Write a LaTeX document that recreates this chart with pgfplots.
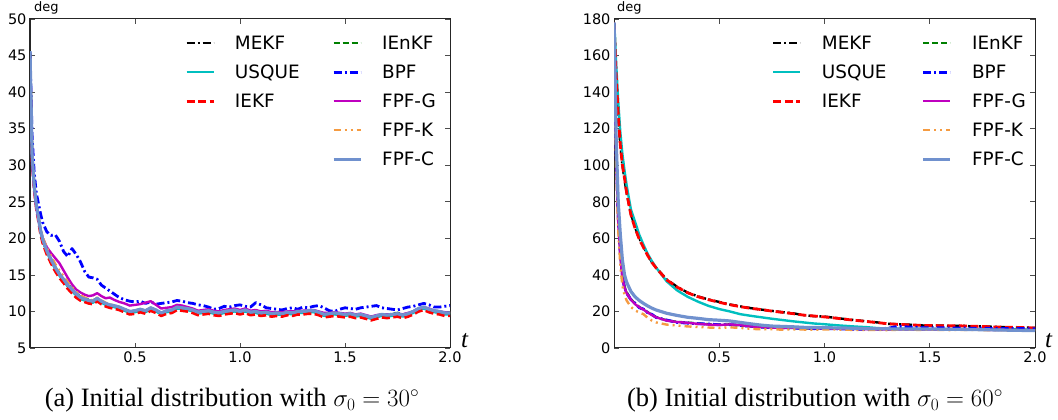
\documentclass[border=0pt]{standalone}
\usepackage{fontspec}
\setmainfont{Liberation Serif}
\setsansfont{DejaVu Sans}
\usepackage{pgfplots}
\usepackage{pgfplotstable}
\pgfplotsset{compat=1.18}

\definecolor{cC}{RGB}{0,191,191}
\definecolor{cG}{RGB}{0,128,0}
\definecolor{cM}{RGB}{191,0,191}
\definecolor{cK}{RGB}{245,155,65}
\definecolor{cL}{RGB}{112,145,206}

\tikzset{
  smekf/.style={black, line width=2.4pt, dash pattern=on 8pt off 3pt on 2pt off 3pt},
  susque/.style={cC, line width=2.4pt},
  siekf/.style={red, line width=2.8pt, dash pattern=on 8pt off 3.5pt},
  sienkf/.style={cG, line width=2.4pt, dash pattern=on 6pt off 3pt},
  sbpf/.style={blue, line width=2.8pt, dash pattern=on 8pt off 3pt on 2pt off 3pt},
  sfpfg/.style={cM, line width=2.4pt},
  sfpfk/.style={cK, line width=2.4pt, dash pattern=on 7pt off 4pt on 2pt off 4pt on 2pt off 4pt},
  sfpfc/.style={cL, line width=3.2pt},
}

\pgfplotstableread{
t M U I E B G K C
0 45.5 45.2 45.3 45.6 45.5 44.8 45.0 45.6
0.01 31.0 31.3 30.6 31.4 34.0 30.2 31.2 31.5
0.02 27.0 27.1 26.6 27.3 29.0 26.8 27.3 27.2
0.03 24.5 24.5 24.1 24.7 26.2 24.2 24.8 24.6
0.04 22.8 22.7 22.4 23.0 24.8 22.6 23.1 22.9
0.05 21.0 20.9 20.6 21.2 23.4 21.1 21.4 21.1
0.06 19.8 19.7 19.4 20.0 22.2 20.1 20.2 19.9
0.08 18.2 18.1 17.8 18.4 20.9 18.8 18.7 18.3
0.10 17.0 16.9 16.6 17.2 20.4 18.0 17.6 17.1
0.12 15.9 15.8 15.5 16.1 20.5 17.3 16.5 16.0
0.14 15.0 14.9 14.6 15.2 19.6 16.6 15.6 15.1
0.16 14.3 14.2 13.9 14.5 18.2 15.6 14.8 14.4
0.18 13.5 13.4 13.1 13.7 17.5 14.6 14.0 13.6
0.20 12.9 12.8 12.5 13.1 18.6 13.7 13.3 13.0
0.22 12.3 12.2 11.9 12.5 17.8 13.0 12.7 12.4
0.24 11.8 11.7 11.5 12.0 16.8 12.6 12.2 11.9
0.26 11.6 11.5 11.3 11.8 15.5 12.3 11.9 11.7
0.28 11.4 11.3 11.1 11.6 14.7 12.1 11.7 11.5
0.30 11.3 11.2 11.0 11.5 14.6 12.2 11.5 11.4
0.32 11.7 11.6 11.4 11.8 14.4 12.5 11.9 11.8
0.34 11.3 11.2 11.0 11.4 13.6 12.1 11.5 11.4
0.36 11.0 10.9 10.7 11.1 13.2 11.8 11.2 11.1
0.38 10.8 10.7 10.5 10.9 12.8 11.9 11.0 10.9
0.40 10.7 10.6 10.4 10.8 12.4 11.6 10.8 10.8
0.425 10.5 10.4 10.2 10.6 11.9 11.3 10.6 10.6
0.45 10.2 10.1 9.9 10.3 11.6 11.1 10.3 10.3
0.475 9.9 9.8 9.6 10.0 11.4 10.8 10.0 10.0
0.5 10.0 9.9 9.7 10.1 11.3 10.9 10.1 10.1
0.525 10.2 10.1 9.9 10.3 11.4 11.0 10.3 10.3
0.55 10.0 9.9 9.7 10.1 11.1 11.2 10.1 10.1
0.575 10.4 10.3 10.1 10.5 11.3 11.4 10.5 10.5
0.6 10.1 10.0 9.8 10.2 11.0 10.9 10.2 10.2
0.625 9.7 9.6 9.4 9.8 11.1 10.4 9.8 9.8
0.65 10.0 9.9 9.7 10.1 11.2 10.5 10.1 10.1
0.675 10.1 10.0 9.8 10.2 11.3 10.6 10.2 10.2
0.7 10.5 10.4 10.2 10.6 11.5 10.9 10.6 10.6
0.725 10.4 10.3 10.1 10.5 11.4 10.8 10.5 10.5
0.75 10.3 10.2 10.0 10.4 11.2 10.6 10.4 10.4
0.775 10.1 10.0 9.8 10.2 11.1 10.4 10.2 10.2
0.8 9.8 9.7 9.5 9.9 10.9 10.1 9.9 9.9
0.825 9.9 9.8 9.6 10.0 10.8 10.2 10.0 10.0
0.85 10.0 9.9 9.7 10.1 10.6 10.3 10.1 10.1
0.875 9.8 9.7 9.5 9.9 10.3 10.1 9.9 9.9
0.9 9.7 9.6 9.4 9.8 10.4 10.0 9.8 9.8
0.925 9.9 9.8 9.6 10.0 10.7 10.2 10.0 10.0
0.95 10.0 9.9 9.7 10.1 10.6 10.3 10.1 10.1
0.975 10.1 10.0 9.8 10.2 10.8 10.4 10.2 10.2
1.0 9.9 9.8 9.6 10.0 10.9 10.2 10.0 10.0
1.025 10.1 10.0 9.8 10.2 10.7 10.4 10.2 10.2
1.05 9.8 9.7 9.5 9.9 10.6 10.1 9.9 9.9
1.075 9.9 9.8 9.6 10.0 11.2 10.2 10.0 10.0
1.1 9.7 9.6 9.4 9.8 10.9 10.0 9.8 9.8
1.125 9.8 9.7 9.5 9.9 10.5 10.1 9.9 9.9
1.15 9.6 9.5 9.3 9.7 10.4 9.9 9.7 9.7
1.175 9.7 9.6 9.4 9.8 10.3 9.9 9.8 9.8
1.2 9.6 9.5 9.3 9.7 10.2 9.9 9.7 9.7
1.225 9.8 9.7 9.5 9.9 10.4 10.0 9.9 9.9
1.25 9.7 9.6 9.4 9.8 10.5 10.0 9.8 9.8
1.275 9.9 9.8 9.6 10.0 10.3 10.1 10.0 10.0
1.3 9.9 9.8 9.6 10.0 10.6 10.1 10.0 10.0
1.325 10.0 9.9 9.7 10.1 10.5 10.2 10.1 10.1
1.35 10.0 9.9 9.7 10.1 10.7 10.2 10.1 10.1
1.375 9.8 9.7 9.5 9.9 10.8 10.0 9.9 9.9
1.4 9.5 9.4 9.2 9.6 10.5 9.8 9.6 9.6
1.425 9.6 9.5 9.3 9.7 10.1 9.8 9.7 9.7
1.45 9.7 9.6 9.4 9.8 10.0 9.9 9.8 9.8
1.475 9.6 9.5 9.3 9.7 10.3 9.8 9.7 9.7
1.5 9.5 9.4 9.2 9.6 10.5 9.7 9.6 9.6
1.525 9.6 9.5 9.3 9.7 10.4 9.8 9.7 9.7
1.55 9.4 9.3 9.1 9.5 10.3 9.6 9.5 9.5
1.575 9.5 9.4 9.2 9.6 10.5 9.7 9.6 9.6
1.6 9.3 9.2 9.0 9.4 10.6 9.5 9.4 9.4
1.625 9.1 9.0 8.8 9.2 10.7 9.3 9.2 9.2
1.65 9.3 9.2 9.0 9.4 10.8 9.5 9.4 9.4
1.675 9.5 9.4 9.2 9.6 10.5 9.6 9.6 9.6
1.7 9.4 9.3 9.1 9.5 10.4 9.6 9.5 9.5
1.725 9.5 9.4 9.2 9.7 10.3 9.6 9.6 9.6
1.75 9.6 9.5 9.3 9.8 10.2 9.7 9.7 9.7
1.775 9.4 9.3 9.1 9.6 10.4 9.6 9.5 9.5
1.8 9.6 9.5 9.3 9.7 10.6 9.8 9.7 9.7
1.825 9.9 9.8 9.6 10.0 10.7 10.0 10.0 10.0
1.85 10.3 10.2 10.0 10.4 10.9 10.4 10.4 10.4
1.875 10.5 10.4 10.2 10.6 11.1 10.6 10.6 10.6
1.9 10.2 10.1 9.9 10.3 10.9 10.4 10.3 10.3
1.925 10.0 9.9 9.7 10.1 10.6 10.1 10.1 10.1
1.95 9.9 9.8 9.6 10.0 10.6 10.0 10.0 10.0
1.975 9.7 9.6 9.4 9.8 10.7 9.9 9.8 9.8
2.0 9.7 9.6 9.4 9.8 10.8 9.8 9.8 9.8
}\lefttab

\pgfplotstableread{
t M U I E B G K C
0 178 178 176 178 178 178 178 178
0.005 163 170 165 140 142 138 135 150
0.01 148 156 150 106 107 104 100 115
0.02 127 135 128 71 72 69 65 80
0.03 111 118 111 51 52 50 45 62
0.04 100 106 100 39 39 38 34 48
0.05 92 97 93 33.5 33 33 29 40
0.06 85 89 85 30.5 30 30 26 36
0.08 73.5 76 73 26.8 26.5 26.5 22.5 31
0.10 66 69 65.5 24.2 24.5 24 20.5 28
0.12 60 62 59.5 22.4 22 22.3 19.5 26
0.14 55.4 56.5 55 21.0 21.3 21 18.5 24.4
0.16 51 51.5 50.6 19.6 19.3 19.5 16.5 23
0.18 47 47.5 46.8 18.1 18.4 18 15 21.8
0.20 44 44 43.8 16.9 16.7 16.8 14 20.8
0.25 37.5 36.5 37.3 15.1 15.3 15 12.8 19
0.30 33.5 31.5 33.3 14.3 14.0 14.2 12.3 17.8
0.35 30.3 28 30.2 13.9 13.6 13.8 11.8 16.8
0.40 28.2 25.3 28.0 13.4 13.3 13.2 11.5 16.2
0.45 26.5 23 26.4 13.0 13.1 12.8 11.2 15.5
0.50 25.2 21.3 25.0 12.8 12.7 12.6 11.0 15.2
0.55 23.8 20 23.7 12.9 12.8 12.9 11.3 14.8
0.60 22.8 18.5 22.6 12.4 12.3 12.5 11.0 14.0
0.65 21.8 17.6 21.7 11.8 11.9 11.8 10.5 13.2
0.70 21.0 16.8 21.0 11.5 11.4 11.5 10.2 12.5
0.75 20.3 16.0 20.2 11.3 11.2 11.2 10.3 12.0
0.80 19.6 15.3 19.5 11.0 11.1 11.0 10.0 11.8
0.85 19.0 14.6 18.8 11.0 10.9 11.1 10.2 11.6
0.90 18.0 14.0 18.0 10.8 10.8 10.9 10.1 11.3
0.95 17.4 13.4 17.5 10.7 10.6 10.8 10.0 11.2
1.00 17.2 13.0 17.0 10.8 10.7 10.7 10.2 11.1
1.05 16.5 12.5 16.4 10.6 10.5 10.6 10.1 11.0
1.10 15.8 12.1 15.7 10.5 10.4 10.5 10.0 10.9
1.15 15.2 11.7 15.1 10.4 10.3 10.4 9.9 10.8
1.20 14.6 11.4 14.5 10.3 10.2 10.3 9.8 10.6
1.25 14.0 10.9 13.9 10.2 10.5 10.2 9.9 10.5
1.30 13.2 10.6 13.3 10.2 10.8 10.1 9.8 10.5
1.35 13.0 10.5 12.9 10.4 11.8 10.2 10.0 10.4
1.40 12.8 10.4 12.7 10.3 11.5 10.2 10.1 10.4
1.45 12.4 10.5 12.4 10.2 11.2 10.1 9.9 10.4
1.50 12.2 10.4 12.3 10.3 11.0 10.2 10.0 10.4
1.55 12.3 10.3 12.2 10.2 11.1 10.1 9.9 10.3
1.60 12.0 10.4 12.1 10.1 10.9 10.0 9.8 10.2
1.65 12.2 10.3 12.1 10.2 11.0 10.1 9.9 10.2
1.70 11.8 10.2 11.9 10.1 10.8 10.0 9.9 10.1
1.75 11.9 10.3 11.8 10.0 10.9 10.0 9.8 10.0
1.80 11.6 10.2 11.5 10.0 10.7 9.9 9.7 9.9
1.85 11.4 10.1 11.4 9.9 10.6 9.9 9.7 9.8
1.90 11.2 10.2 11.3 9.9 10.7 9.8 9.6 9.7
1.95 11.3 10.1 11.2 9.8 10.6 9.8 9.6 9.6
2.00 11.0 10.0 10.9 9.7 10.5 9.7 9.5 9.6
}\righttab

\pgfplotsset{
  myaxis/.style={
    scale only axis, height=329pt, xmin=0, xmax=2,
    tick align=inside,
    ticklabel style={font=\sffamily\fontsize{14.5}{17}\selectfont},
    /pgf/number format/assume math mode=true,
    xtick={0.5,1,1.5,2}, xticklabels={0.5,1.0,1.5,2.0},
    axis line style={black!85, line width=1pt},
    major tick length=5pt,
    tick style={black!70, line width=0.6pt},
    legend image code/.code={\draw[##1] (0pt,6.7pt) -- (27pt,6.7pt);},
    every axis plot/.append style={line join=round},
  },
  mylegend/.style={
    legend columns=2,
    legend style={draw=none, fill=none, inner sep=0pt,
      font=\sffamily\fontsize{18.4}{22}\selectfont,
      row sep=15.6pt,
      nodes={inner sep=0pt, text height=13.4pt, text depth=0pt, anchor=base west},
      /tikz/every odd column/.append style={column sep=20pt},
      anchor=north west},
  },
}

\begin{document}
\begin{tikzpicture}
\useasboundingbox (0,0) rectangle (1058pt,420pt);

\begin{axis}[myaxis, mylegend, at={(30pt,72pt)}, anchor=south west, width=420pt,
  ymin=5, ymax=50, ytick={5,10,...,50},
  legend style={at={(0.369,0.9474)}}]
\addplot[smekf, forget plot] table[x=t, y=M] {\lefttab};
\addplot[susque, forget plot] table[x=t, y=U] {\lefttab};
\addplot[siekf, forget plot] table[x=t, y=I] {\lefttab};
\addplot[sienkf, forget plot] table[x=t, y=E] {\lefttab};
\addplot[sbpf, forget plot] table[x=t, y=B] {\lefttab};
\addplot[sfpfg, forget plot] table[x=t, y=G] {\lefttab};
\addplot[sfpfk, forget plot] table[x=t, y=K] {\lefttab};
\addplot[sfpfc, forget plot] table[x=t, y=C] {\lefttab};
\addlegendimage{smekf}\addlegendentry{\makebox[97pt][l]{MEKF}}
\addlegendimage{sienkf}\addlegendentry{IEnKF}
\addlegendimage{susque}\addlegendentry{\makebox[97pt][l]{USQUE}}
\addlegendimage{sbpf}\addlegendentry{BPF}
\addlegendimage{siekf}\addlegendentry{\makebox[97pt][l]{IEKF}}
\addlegendimage{sfpfg}\addlegendentry{FPF-G}
\addlegendimage{empty legend}\addlegendentry{\makebox[97pt][l]{}}
\addlegendimage{sfpfk}\addlegendentry{FPF-K}
\addlegendimage{empty legend}\addlegendentry{\makebox[97pt][l]{}}
\addlegendimage{sfpfc}\addlegendentry{FPF-C}
\end{axis}

\begin{axis}[myaxis, mylegend, at={(614pt,72pt)}, anchor=south west, width=421pt,
  ymin=0, ymax=180, ytick={0,20,...,180},
  legend style={at={(0.375,0.9474)}}]
\addplot[smekf, forget plot] table[x=t, y=M] {\righttab};
\addplot[susque, forget plot] table[x=t, y=U] {\righttab};
\addplot[siekf, forget plot] table[x=t, y=I] {\righttab};
\addplot[sienkf, forget plot] table[x=t, y=E] {\righttab};
\addplot[sbpf, forget plot] table[x=t, y=B] {\righttab};
\addplot[sfpfg, forget plot] table[x=t, y=G] {\righttab};
\addplot[sfpfk, forget plot] table[x=t, y=K] {\righttab};
\addplot[sfpfc, forget plot] table[x=t, y=C] {\righttab};
\addlegendimage{smekf}\addlegendentry{\makebox[100pt][l]{MEKF}}
\addlegendimage{sienkf}\addlegendentry{IEnKF}
\addlegendimage{susque}\addlegendentry{\makebox[100pt][l]{USQUE}}
\addlegendimage{sbpf}\addlegendentry{BPF}
\addlegendimage{siekf}\addlegendentry{\makebox[100pt][l]{IEKF}}
\addlegendimage{sfpfg}\addlegendentry{FPF-G}
\addlegendimage{empty legend}\addlegendentry{\makebox[100pt][l]{}}
\addlegendimage{sfpfk}\addlegendentry{FPF-K}
\addlegendimage{empty legend}\addlegendentry{\makebox[100pt][l]{}}
\addlegendimage{sfpfc}\addlegendentry{FPF-C}
\end{axis}

\node[anchor=base west, inner sep=0pt, font=\sffamily\fontsize{13}{15}\selectfont] at (34pt,408pt) {deg};
\node[anchor=base west, inner sep=0pt, font=\sffamily\fontsize{13}{15}\selectfont] at (617pt,408pt) {deg};
\node[anchor=base west, inner sep=0pt, font=\itshape\fontsize{25}{28}\selectfont] at (461pt,72pt) {t};
\node[anchor=base west, inner sep=0pt, font=\itshape\fontsize{25}{28}\selectfont] at (1045pt,72pt) {t};
\node[anchor=base, inner sep=0pt, font=\fontsize{26.5}{30}\selectfont] at (232pt,13pt) {(a) Initial distribution with $\sigma_0 = 30^\circ$};
\node[anchor=base, inner sep=0pt, font=\fontsize{26.5}{30}\selectfont] at (815pt,13pt) {(b) Initial distribution with $\sigma_0 = 60^\circ$};
\end{tikzpicture}
\end{document}
